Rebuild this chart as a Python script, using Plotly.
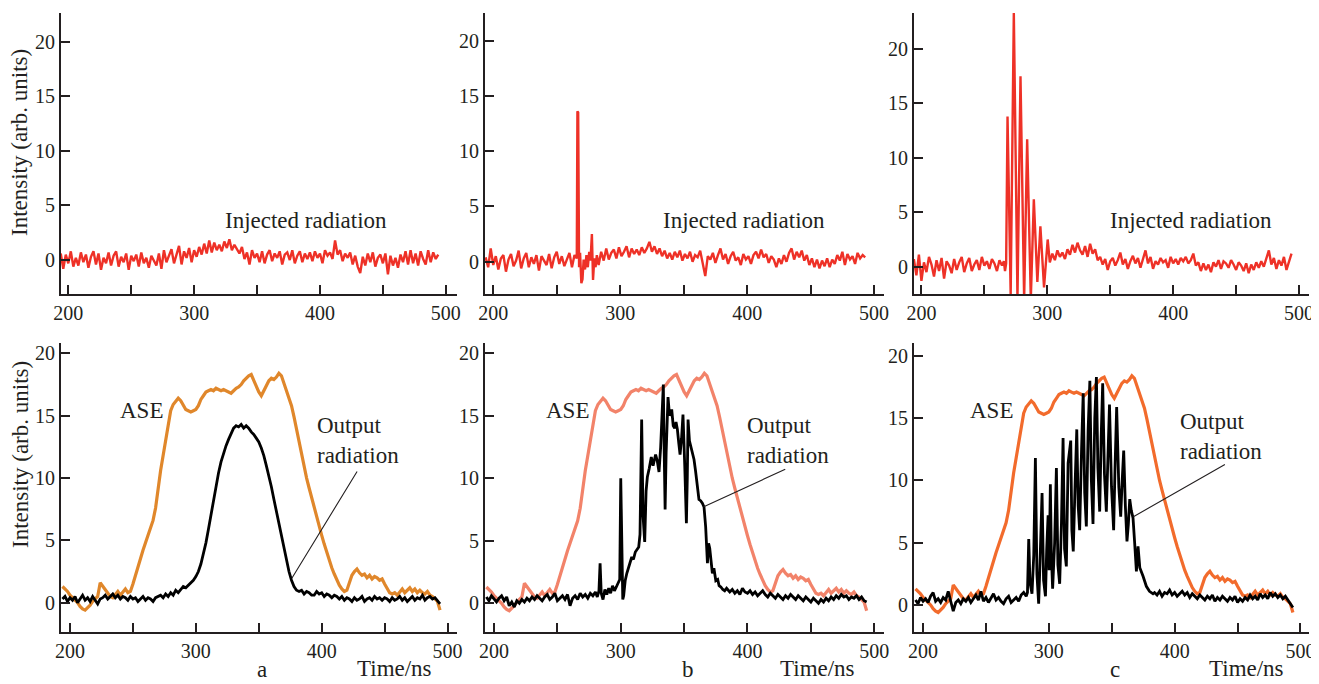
import numpy as np
import plotly.graph_objects as go

# the page body keeps its default 8px margin, so the figure is drawn 8px in
W, H, OFF = 1311, 676, 8

# ---------------- data ----------------
# sampling grid for the smooth/noisy parts: 2 ns steps starting at 194 ns
# injected radiation, panel a (194..494 ns)
inj_a = [
    0.6, -0.8, 0.5, -0.3, 0.8, -0.6, 0.2, -0.5, 0.7, -0.2,
    0.5, -0.7, 0.3, 0.8, -0.4, 0.6, -0.9, 0.2, -0.3, 0.7,
    -0.5, 0.4, 0.8, -0.6, 0.3, -0.2, 0.6, -0.9, 0.4, -0.1,
    0.5, -0.6, 0.7, -0.3, 0.2, -0.7, 0.4, 0.0, -0.5, 0.6,
    -0.8, 0.9, -0.2, 0.4, 1.0, -0.3, 0.6, 1.3, -0.4, 0.8,
    0.2, 1.1, -0.2, 0.9, 0.3, 1.2, 0.5, 1.5, 0.6, 1.8,
    0.7, 1.6, 0.9, 1.4, 0.8, 1.7, 1.1, 1.9, 0.9, 1.4,
    1.0, 0.6, 1.2, 0.1, 0.7, -0.4, 0.9, 0.2, 0.6, -0.2,
    0.8, -0.3, 0.5, 0.9, -0.1, 0.6, 0.2, 0.8, -0.4, 0.5,
    0.7, 0.0, 0.9, -0.3, 0.4, 0.8, -0.2, 0.6, 0.1, 0.7,
    -0.1, 0.8, 0.2, 0.6, -0.3, 0.9, 0.4, 0.7, 0.1, 1.8,
    0.5, 0.9, -0.1, 0.6, 0.2, 0.7, -0.4, 0.4, -0.6, -1.2,
    0.3, -0.5, 0.6, -0.2, 0.7, -0.6, 0.2, 0.5, -0.3, 0.6,
    -1.3, 0.4, -0.5, 0.2, -0.7, 0.5, -0.2, 0.8, -0.4, 0.9,
    -0.3, 0.6, -0.5, 0.8, 0.1, -0.4, 0.9, -0.2, 0.7, 0.1,
    0.5,
]

# injected radiation, panel b: before the spike (194..264), spike, after (283..493)
inj_b_pre = [
    0.4, -0.5, 1.2, -0.3, 0.5, -0.7, 0.3, 0.6, -0.9, 0.2,
    0.7, -0.4, 0.1, 1.0, -0.6, 0.3, 0.8, -0.5, 0.4, -0.2,
    0.6, -0.8, 0.5, 0.1, -0.3, 0.7, -0.6, 0.4, 0.9, -0.2,
    0.5, -0.4, 0.3, 0.8, -0.5, 0.6,
]
inj_b_spike_t = [265.8, 266.3, 266.9, 267.6, 268.4, 269.4, 270.3, 271.2, 272.3,
                 273.4, 274.5, 275.6, 276.6, 277.7, 278.6, 279.6, 280.6, 281.6]
inj_b_spike = [0.3, 13.6, 13.5, -0.5, 0.8, -1.95, -1.6, 0.2, -0.7,
               0.6, -0.5, 0.9, 0.1, 2.5, -1.65, 0.3, -0.5, 0.6]
inj_b_post = [
    -0.3, 0.9, 0.1, 1.2, 0.2, 0.8, 1.1, 0.3, 1.3, 0.5,
    0.9, 1.4, 0.4, 1.2, 0.7, 1.1, 0.6, 1.3, 0.8, 1.2,
    1.8, 0.9, 1.4, 0.7, 1.2, 0.5, 1.0, 0.3, 0.8, 0.2,
    0.9, 0.4, 1.0, 0.1, 0.7, 0.3, 0.9, 0.0, 0.6, 0.4,
    1.0, -0.2, -1.3, 0.5, 0.2, 0.8, -0.1, 0.6, 1.2, 0.2,
    0.7, -0.2, 0.5, 0.9, 0.1, 0.4, -0.3, 0.7, 0.2, 0.5,
    -0.2, 0.6, 0.9, 0.3, 1.1, 0.4, 0.7, -0.1, 0.5, 0.2,
    -0.5, 0.3, -0.2, 0.6, 0.0, 0.8, 1.2, 0.2, 0.9, 0.4,
    1.0, 0.1, 0.6, -0.3, 0.3, -0.5, 0.2, -0.6, 0.1, -0.4,
    0.3, -0.5, 0.2, -0.2, 0.6, 0.1, 0.9, -0.3, 0.7, 0.2,
    0.5, -0.2, 0.8, 0.3, 0.6, 0.4,
]

# injected radiation, panel c: before (194..264), pulse train, after (302..494)
inj_c_pre = [
    0.7, -0.8, 1.1, -1.3, 0.4, -0.5, 0.9, 0.2, -0.9, 0.6,
    -0.4, 0.8, -1.1, 0.5, 0.1, -0.6, 0.7, -0.3, 0.4, 0.9,
    -0.5, 0.3, 0.8, -0.4, 0.2, 0.6, -0.3, 0.9, 0.1, 0.5,
    -0.2, 0.7, 0.3, -0.4, 0.6, 0.1,
]
inj_c_burst_t = [265.5, 266.4, 267.3, 268.4, 270.9, 273.4, 276.3, 278.7,
                 281.6, 284.0, 286.9, 289.3, 292.1, 294.5, 297.4, 300.3]
inj_c_burst = [0.5, -0.4, 0.3, 13.8, -2.6, 23.3, -2.9, 17.5,
               -3.0, 11.7, -3.0, 6.2, -1.4, 3.7, -1.9, 2.5]
inj_c_post = [
    0.4, 1.2, 0.6, 1.5, 0.9, 1.3, 0.7, 1.6, 1.1, 2.0,
    1.3, 2.2, 1.5, 1.1, 1.9, 0.9, 2.1, 1.2, 1.6, 0.6,
    0.9, 0.2, 0.7, -0.3, 0.5, 0.8, 0.1, 0.6, 1.3, 0.2,
    0.7, -0.2, 0.5, 1.0, 0.3, 0.8, -0.1, 0.6, 1.5, 0.3,
    0.9, -0.2, 0.5, 0.2, 0.8, 0.4, 0.6, -0.1, 0.9, 0.3,
    0.7, 0.2, 0.8, 0.5, 0.9, 0.3, 0.6, 1.2, 0.1, 0.4,
    -0.4, 0.3, -0.3, 0.2, -0.5, 0.4, 0.0, 0.6, -0.2, 0.5,
    0.3, -0.1, 0.6, 0.2, -0.3, 0.4, 0.1, -0.4, 0.3, -0.6,
    0.2, -0.3, 0.4, -0.1, 0.5, 0.0, 0.7, 1.5, 0.2, 0.8,
    -0.2, 0.6, 0.1, 0.9, -0.3, 0.4, 1.2,
]

# ASE (same trace in all three lower panels), 194..494 ns
ase = [
    1.3, 1.1, 0.9, 0.6, 0.4, 0.2, 0.0, -0.3, -0.5, -0.6,
    -0.4, -0.2, 0.1, 0.3, 0.5, 1.6, 1.3, 1.0, 0.7, 0.5,
    0.4, 0.7, 0.9, 0.6, 0.9, 1.1, 0.8, 0.9, 1.5, 2.2,
    3.0, 3.6, 4.2, 4.8, 5.4, 6.0, 6.6, 7.6, 9.2, 10.6,
    11.8, 13.0, 14.4, 15.4, 15.9, 16.2, 16.4, 16.2, 15.8, 15.5,
    15.4, 15.3, 15.4, 15.5, 15.8, 16.3, 16.6, 16.9, 17.0, 17.1,
    17.0, 17.2, 17.1, 17.0, 17.1, 17.0, 16.9, 16.8, 17.0, 17.2,
    17.3, 17.5, 17.8, 18.0, 18.2, 18.3, 17.8, 17.4, 16.9, 16.6,
    17.0, 17.4, 17.8, 18.0, 17.9, 18.1, 18.4, 18.2, 17.6, 16.9,
    16.4, 15.8, 14.9, 13.9, 12.9, 11.8, 10.8, 10.0, 9.2, 8.4,
    7.6, 6.8, 6.1, 5.4, 4.7, 4.0, 3.4, 2.8, 2.3, 1.8,
    1.4, 1.1, 0.9, 1.0, 1.6, 2.2, 2.5, 2.7, 2.4, 2.2,
    2.3, 2.0, 2.2, 1.9, 2.1, 2.0, 1.8, 1.9, 1.5, 1.1,
    0.8, 0.7, 0.8, 0.6, 0.9, 1.1, 0.8, 1.0, 1.2, 0.9,
    1.1, 0.8, 1.0, 0.8, 0.7, 0.9, 0.6, 0.5, 0.3, 0.1,
    -0.6,
]

# output radiation, panel a, 194..494 ns
out_a = [
    0.3, 0.5, 0.1, 0.4, 0.2, 0.5, 0.0, 0.3, 0.6, 0.2,
    0.4, 0.1, 0.5, 0.2, -0.1, 0.3, 0.4, 0.6, 0.3, 0.5,
    0.7, 0.4, 0.6, 0.3, 0.5, 0.4, 0.2, 0.5, 0.3, 0.4,
    0.1, 0.3, 0.5, 0.2, 0.4, 0.3, 0.1, 0.4, 0.5, 0.6,
    0.4, 0.7, 0.5, 0.8, 0.6, 1.0, 0.8, 1.1, 1.3, 1.2,
    1.4, 1.6, 1.8, 2.1, 2.5, 3.1, 3.9, 4.8, 5.9, 7.1,
    8.2, 9.3, 10.4, 11.3, 12.0, 12.6, 13.1, 13.6, 14.0, 14.2,
    14.1, 14.3, 14.0, 14.2, 14.0, 13.7, 13.5, 13.2, 12.9, 12.4,
    11.8, 11.0, 10.2, 9.3, 8.3, 7.3, 6.3, 5.3, 4.3, 3.3,
    2.5, 1.8, 1.3, 1.0, 0.9, 1.0, 0.7, 0.9, 0.8, 0.6,
    0.6, 0.9, 0.7, 0.8, 0.5, 0.7, 0.6, 0.4, 0.6, 0.5,
    0.3, 0.5, 0.2, 0.4, 0.3, 0.1, 0.4, 0.2, 0.3, 0.5,
    0.1, 0.3, 0.4, 0.2, 0.5, 0.3, 0.4, 0.2, 0.4, 0.3,
    0.1, 0.4, 0.2, 0.3, 0.5, 0.2, 0.4, 0.1, 0.3, 0.5,
    0.2, 0.4, 0.3, 0.6, 0.2, 0.4, 0.5, 0.3, 0.4, 0.1,
    -0.1,
]

# output radiation, panel b: before (194..278), pulse (280..384), after (386..494)
out_b_pre = [
    0.5, 0.2, 0.6, 0.3, 0.1, 0.4, 0.6, 0.2, 0.5, -0.2,
    0.1, -0.3, 0.2, 0.0, 0.3, 0.1, 0.4, 0.2, 0.5, 0.3,
    0.6, 0.4, 0.2, 0.5, 0.7, 0.3, 0.5, 0.8, 0.2, 0.4,
    0.6, 0.3, 0.7, -0.2, 0.4, 0.6, 0.3, 0.8, 0.5, 0.7,
    0.4, 0.8, 0.6,
]
out_b_pulse_t = [
    280, 281.5, 282.8, 283.7, 284.6, 286, 287.5, 289, 290.5, 292,
    293.5, 295, 296.5, 298, 299.2, 300, 300.8, 301.6, 302.3, 303.5,
    304.8, 306, 307.5, 308.7, 310, 311.5, 313, 314.2, 315.2, 316.5,
    317.6, 318.9, 320, 321, 322.5, 324.1, 325.5, 327.5, 328.8, 330.2,
    331.5, 332.5, 333.6, 334.3, 335, 335.8, 337.3, 338.5, 340.2, 341.4,
    342.6, 343.6, 344.7, 345.8, 346.8, 348, 349.1, 350.5, 351.8, 352.5,
    353.1, 354.2, 355.2, 356.5, 357.8, 359, 360, 361.7, 363, 364.4,
    365.7, 367, 368.4, 369.3, 370.2, 371.3, 372.3, 373.5, 375, 376.5,
    377.6, 379, 380.5, 382, 383.5,
]
out_b_pulse = [
    0.9, 0.5, 1.0, 3.2, 0.8, 0.3, 1.1, 0.7, 1.2, 0.8,
    1.4, 1.0, 1.3, 1.6, 1.9, 10.0, 2.5, 0.3, 0.6, 1.8,
    2.4, 2.9, 3.3, 3.7, 3.5, 4.1, 4.3, 4.5, 5.5, 14.7,
    7.0, 4.9, 9.0, 10.1, 10.8, 11.7, 11.0, 11.9, 11.4, 10.5,
    12.5, 15.0, 17.5, 12.0, 7.5, 12.0, 16.5, 15.0, 15.5, 14.2,
    14.0, 14.5, 13.9, 12.8, 11.9, 13.2, 15.1, 11.0, 6.4, 10.0,
    14.7, 13.0, 12.5, 12.0, 11.5, 10.6, 9.9, 8.3, 8.2, 8.0,
    7.7, 6.1, 3.2, 4.8, 4.4, 3.4, 2.4, 2.8, 1.8, 1.9,
    1.4, 1.3, 1.1, 1.0, 1.2,
]
out_b_post = [
    0.9, 1.1, 0.8, 1.0, 0.7, 1.2, 0.9, 0.8, 1.0, 0.7,
    0.9, 0.6, 0.8, 1.0, 0.7, 0.5, 0.8, 0.6, 0.4, 0.7,
    0.5, 0.3, 0.6, 0.4, 0.7, 0.5, 0.3, 0.6, 0.4, 0.2,
    0.5, 0.3, 0.1, 0.4, 0.2, 0.0, 0.3, 0.1, 0.4, 0.2,
    0.5, 0.3, 0.6, 0.4, 0.7, 0.5, 0.6, 0.3, 0.5, 0.4,
    0.6, 0.3, 0.5, 0.2, 0.1,
]

# output radiation, panel c: before (194..282), pulse train (283..383), after (384..494)
out_c_pre = [
    0.4, 0.1, 0.6, 0.3, 0.5, 0.2, 0.7, 1.0, 0.3, 0.5,
    0.2, 0.6, 0.4, 1.1, 0.3, -0.5, 0.2, 0.4, 0.1, 0.5,
    0.3, 0.6, 0.2, 0.5, 0.8, 0.4, 1.1, 0.3, 0.6, 0.2,
    0.5, 0.9, 0.4, 0.6, 0.3, 0.1, 0.5, 0.7, 0.2, 0.4,
    0.6, 0.3, 0.8, 1.0, 0.7,
]
out_c_train_t = [
    283.0, 284.0, 285.0, 286.6, 288.0, 289.3, 290.5, 291.9, 293.0, 294.6,
    295.8, 297.3, 298.3, 299.4, 300.2, 301.2, 302.0, 303.0, 304.6, 306.0,
    307.2, 308.6, 310.0, 311.3, 312.5, 313.9, 315.3, 317.4, 318.3, 319.4,
    320.8, 322.2, 323.3, 324.5, 326.0, 327.3, 328.5, 329.8, 331.2, 332.6,
    333.8, 335.1, 336.5, 337.8, 339.0, 340.4, 341.6, 342.8, 344.2, 345.7,
    347.0, 348.2, 349.8, 351.5, 352.6, 353.9, 355.6, 357.1, 358.3, 359.5,
    360.8, 362.1, 363.2, 364.3, 365.5, 366.9, 368.2, 369.6, 370.9, 372.3,
    374.9, 377.5, 380.0, 382.8,
]
out_c_train = [
    1.0, 5.3, 1.8, 0.9, 4.0, 11.8, 2.5, 0.1, 3.5, 9.0,
    2.0, 0.7, 4.5, 7.2, 2.8, 9.7, 4.0, 1.3, 5.0, 11.0,
    3.2, 1.7, 6.5, 13.4, 4.5, 3.1, 11.4, 13.2, 6.0, 4.3,
    9.5, 14.1, 8.0, 6.0, 12.5, 17.0, 9.0, 6.3, 14.0, 18.0,
    10.0, 6.5, 15.0, 18.3, 11.0, 7.5, 13.5, 17.8, 10.5, 7.5,
    12.0, 16.1, 9.5, 6.0, 11.0, 15.9, 9.5, 7.1, 10.0, 12.4,
    8.0, 5.1, 6.5, 8.5, 7.6, 7.0, 5.0, 2.7, 4.7, 3.0,
    2.3, 1.5, 1.1, 0.9,
]
out_c_post = [
    1.0, 0.8, 1.1, 0.7, 1.0, 0.9, 1.2, 0.8, 1.0, 0.7,
    0.9, 1.1, 0.8, 1.0, 0.6, 0.9, 0.7, 0.5, 0.8, 0.6,
    0.4, 0.7, 0.5, 0.8, 0.3, 0.6, 0.4, 0.7, 0.5, 0.3,
    0.6, 0.4, 0.7, 0.2, 0.5, 0.3, 0.6, 0.4, 0.8, 0.5,
    0.7, 0.4, 0.9, 0.6, 0.8, 0.5, 1.0, 0.7, 0.9, 0.6,
    0.8, 0.5, 0.7, 0.4, 0.2, -0.2,
]

panel_letters = ["a", "b", "c"]
x_ticks = [200, 300, 400, 500]
x_minor = [250, 350, 450]
y_ticks = [0, 5, 10, 15, 20]


def grid(start, vals, step=2.0):
    return list(start + step * np.arange(len(vals))), list(vals)


def join(*parts):
    t, v = [], []
    for pt, pv in parts:
        t += list(pt)
        v += list(pv)
    return t, v


inj_traces = [
    grid(194, inj_a),
    join(grid(194, inj_b_pre), (inj_b_spike_t, inj_b_spike), grid(283, inj_b_post)),
    join(grid(194, inj_c_pre), (inj_c_burst_t, inj_c_burst), grid(302, inj_c_post)),
]
ase_trace = grid(194, ase)
out_traces = [
    grid(194, out_a),
    join(grid(194, out_b_pre), (out_b_pulse_t, out_b_pulse), grid(386, out_b_post)),
    join(grid(194, out_c_pre), (out_c_train_t, out_c_train), grid(384, out_c_post)),
]

RED = "#EE3127"
ASE_COLORS = ["#E0872B", "#F2836A", "#F26B2C"]
INK = "#231F20"
SERIF = "Liberation Serif, Times New Roman, DejaVu Serif, serif"


def px(p):   # page x pixel -> paper fraction
    return (p - OFF) / W


def py(p):   # page y pixel -> paper fraction
    return 1 - (p - OFF) / H


# ---------------- layout geometry (page pixels) ----------------
col_px = [(61, 457), (485, 884), (914, 1309)]
row_px = [(294, 13), (632, 342.5)]
x_ranges = [[(194.2, 508.9), (193.5, 507.8), (194.1, 507.9)],
            [(192.85, 507.5), (192.9, 507.7), (192.8, 506.8)]]
y_ranges = [[(-3.11, 22.63), (-2.92, 22.5), (-2.51, 23.31)],
            [(-2.35, 20.87), (-2.30, 20.86), (-2.17, 21.08)]]

fig = go.Figure()
layout = dict(
    width=W, height=H,
    margin=dict(l=0, r=0, t=0, b=0),
    paper_bgcolor="white", plot_bgcolor="white",
    showlegend=False,
    font=dict(family=SERIF, size=20, color=INK),
)

axis_common = dict(
    showgrid=False, zeroline=False, showline=True, linecolor=INK, linewidth=2,
    ticks="inside", ticklen=9, tickwidth=2, tickcolor=INK,
    tickfont=dict(family=SERIF, size=20, color=INK),
    automargin=False,
)

for r in range(2):
    for c in range(3):
        i = r * 3 + c + 1
        sfx = "" if i == 1 else str(i)
        x0, x1 = col_px[c]
        yb, yt = row_px[r]
        layout["xaxis" + sfx] = dict(
            axis_common, domain=[px(x0), px(x1)], range=list(x_ranges[r][c]),
            anchor="y" + sfx, tickvals=x_ticks,
            minor=dict(tickvals=x_minor, ticks="inside", ticklen=9,
                       tickwidth=2, tickcolor=INK),
        )
        layout["yaxis" + sfx] = dict(
            axis_common, domain=[py(yb), py(yt)], range=list(y_ranges[r][c]),
            anchor="x" + sfx, tickvals=y_ticks, ticklabelstandoff=0,
        )
        xa, ya = "x" + sfx, "y" + sfx
        if r == 0:
            t, v = inj_traces[c]
            fig.add_trace(go.Scatter(x=t, y=v, mode="lines", xaxis=xa, yaxis=ya,
                                     line=dict(color=RED, width=2.4)))
        else:
            t, v = ase_trace
            fig.add_trace(go.Scatter(x=t, y=v, mode="lines", xaxis=xa, yaxis=ya,
                                     line=dict(color=ASE_COLORS[c], width=3.2)))
            t, v = out_traces[c]
            fig.add_trace(go.Scatter(x=t, y=v, mode="lines", xaxis=xa, yaxis=ya,
                                     line=dict(color="black", width=2.8)))

fig.update_layout(**layout)


def note(text, x, y, size=23, xanchor="center", yanchor="middle", **kw):
    fig.add_annotation(text=text, x=px(x), y=py(y), xref="paper", yref="paper",
                       xanchor=xanchor, yanchor=yanchor, showarrow=False,
                       font=dict(family=SERIF, size=size, color=INK), **kw)


# y-axis titles
note("Intensity (arb. units)", 20, 143, textangle=-90)
note("Intensity (arb. units)", 20, 455, textangle=-90)

# panel texts
for cx in [306, 744, 1191]:
    note("Injected radiation", cx, 220)
for cx in [141, 567, 991]:
    note("ASE", cx, 410)
for lx, ly in [(315, 440), (745, 440), (1178, 436)]:
    note("Output<br>radiation", lx, ly, xanchor="left", align="left")
for cx in [394, 817, 1246]:
    note("Time/ns", cx, 668)
for letter, cx in zip(panel_letters, [262, 688, 1115]):
    note(letter, cx, 684, yanchor="bottom")

# leader lines from the "Output radiation" labels to the black curves
leaders = [(376.4, 1.98, 66, -108), (365.5, 7.73, 83, -38), (367.2, 7.09, 93, -53)]
for k, (tx, ty, ax, ay) in enumerate(leaders):
    sfx = str(k + 4)
    fig.add_annotation(x=tx, y=ty, xref="x" + sfx, yref="y" + sfx, text="",
                       showarrow=True, arrowhead=0, arrowwidth=1.1, arrowcolor=INK,
                       ax=ax, ay=ay, standoff=0, startstandoff=0)

fig.write_html("out.html")
